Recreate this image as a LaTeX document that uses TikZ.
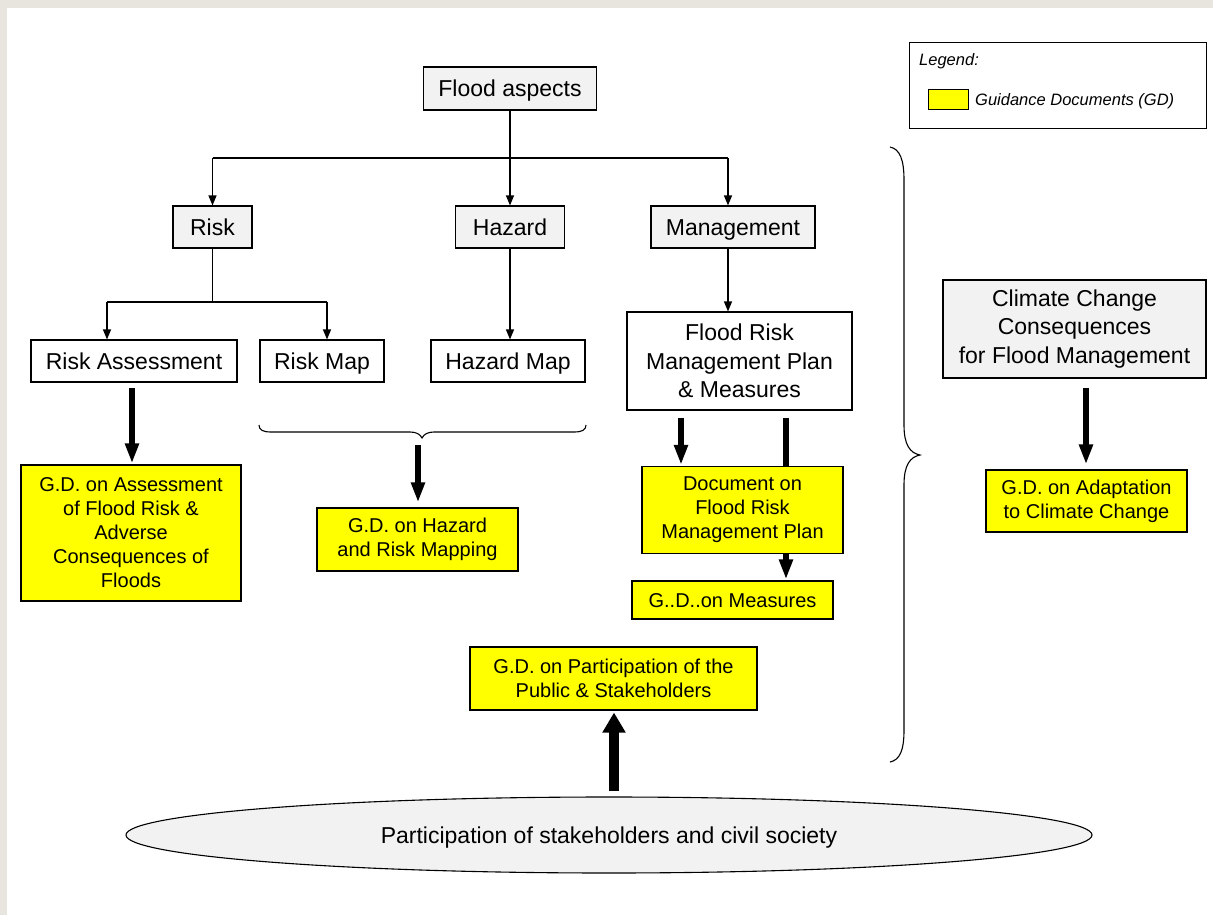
\documentclass[tikz,border=0pt]{standalone}
\usepackage{fontspec}
\setmainfont{Liberation Sans}
\usetikzlibrary{arrows.meta,shapes.geometric}
\definecolor{bgbeige}{HTML}{E8E4DE}
\definecolor{boxgray}{HTML}{F2F2F2}
\definecolor{gdyellow}{HTML}{FFFF00}
\tikzset{
  base/.style={draw=black, line width=1.1pt, inner sep=0pt, align=center, font=\fontsize{23}{28.3}\selectfont},
  graybox/.style={base, fill=boxgray},
  whitebox/.style={base, fill=white},
  oneline/.style={text height=16.5pt, text depth=0pt},
  gdoneline/.style={text height=14.4pt, text depth=0pt},
  gdbox/.style={base, fill=gdyellow, font=\fontsize{20}{24}\selectfont},
  thinline/.style={line width=1.2pt},
  thin arrow/.style={line width=1.2pt, -{Triangle[width=8pt,length=10pt]}},
  fat arrow/.style={line width=6pt, -{Triangle[width=13pt,length=20pt]}},
  big arrow/.style={line width=10pt, -{Triangle[width=22pt,length=20pt]}},
  bracepath/.style={line width=1.1pt},
  legfont/.style={font=\fontsize{16.5}{20}\selectfont\itshape, inner sep=0pt}
}
\begin{document}
\begin{tikzpicture}[x=1pt,y=-1pt]
\useasboundingbox (0,0) rectangle (1213,915);
\fill[bgbeige] (0,0) rectangle (1213,915);
\fill[white] (7,8) rectangle (1213,915);

% legend
\node[draw, line width=1pt, fill=white, minimum width=297pt, minimum height=86pt, inner sep=0pt] (legend) at (1057.5,86) {};
\node[legfont, anchor=base west] (legtitle) at (919,66) {Legend:};
\node[draw, line width=1pt, fill=gdyellow, minimum width=40pt, minimum height=20pt, inner sep=0pt] (swatch) at (948,100) {};
\node[legfont, anchor=base west] (legtext) at (975,106) {Guidance Documents (GD)};

% top level
\node[graybox, oneline, minimum width=173pt, minimum height=43pt] (flood) at (510,88.5) {Flood aspects};
\node[graybox, oneline, minimum width=79pt, minimum height=42pt] (risk) at (212.5,227) {Risk};
\node[graybox, oneline, minimum width=109pt, minimum height=42pt] (hazard) at (510,227) {Hazard};
\node[graybox, oneline, minimum width=164pt, minimum height=42pt] (mgmt) at (733,227) {Management};

\node[whitebox, oneline, minimum width=206pt, minimum height=42pt] (rass) at (134,361) {Risk Assessment};
\node[whitebox, oneline, minimum width=124pt, minimum height=42pt] (rmap) at (322,361) {Risk Map};
\node[whitebox, oneline, minimum width=154pt, minimum height=42pt] (hmap) at (508,361) {Hazard Map};
\node[whitebox, minimum width=225pt, minimum height=98pt] (frmp) at (739.5,361) {Flood Risk\\Management Plan\\\& Measures};
\node[graybox, minimum width=263pt, minimum height=98pt] (climate) at (1074.5,329) {Climate Change\\Consequences\\for Flood Management};

% connectors (thin)
\coordinate (top) at (510,158);
\coordinate (tl) at (212.5,158);
\coordinate (tr) at (728,158);
\draw[thinline] (flood.south) -- (top);
\draw[thinline] (tl) -- (tr);
\draw[thin arrow] (tl) -- (risk.north);
\draw[thin arrow] (top) -- (hazard.north);
\draw[thin arrow] (tr) -- (tr |- mgmt.north);
\draw[thin arrow] (tr |- mgmt.south) -- (tr |- frmp.north);

\coordinate (rb) at (212.5,302);
\coordinate (rbl) at (107,302);
\coordinate (rbr) at (327,302);
\draw[thinline] (risk.south) -- (rb);
\draw[thinline] (rbl) -- (rbr);
\draw[thin arrow] (rbl) -- (rbl |- rass.north);
\draw[thin arrow] (rbr) -- (rbr |- rmap.north);
\draw[thin arrow] (hazard.south) -- (hazard.south |- hmap.north);

% guidance documents
\node[gdbox, minimum width=220pt, minimum height=136pt] (gdass) at (131,533) {G.D. on Assessment\\of Flood Risk \&\\Adverse\\Consequences of\\Floods};
\node[gdbox, minimum width=201pt, minimum height=63pt] (gdhaz) at (417.5,539.5) {G.D. on Hazard\\and Risk Mapping};
\node[gdbox, gdoneline, minimum width=201pt, minimum height=38pt] (gdmeas) at (732.5,600) {G..D..on Measures};

\coordinate (xm) at (786,0);
\draw[fat arrow, shorten <=7pt, shorten >=1pt] (frmp.south -| xm) -- (gdmeas.north -| xm);

\node[gdbox, minimum width=201pt, minimum height=87pt] (gddoc) at (742.5,510) {Document on\\Flood Risk\\Management Plan};
\node[gdbox, minimum width=287pt, minimum height=63pt] (gdpart) at (613.5,678.5) {G.D. on Participation of the\\Public \& Stakeholders};
\node[gdbox, minimum width=201pt, minimum height=62pt] (gdadapt) at (1086.5,501) {G.D. on Adaptation\\to Climate Change};

\node[draw=black, line width=1.1pt, ellipse, fill=boxgray, minimum width=966pt, minimum height=76pt, inner sep=0pt, font=\fontsize{23}{28}\selectfont, text height=16.5pt, text depth=0pt] (civil) at (609,835) {Participation of stakeholders and civil society};

% thick arrows
\coordinate (xa) at (132,0);
\coordinate (xd) at (681,0);
\coordinate (xc) at (1086,0);
\coordinate (xp) at (614,0);
\coordinate (bt) at (418,440);
\draw[fat arrow, shorten <=5pt, shorten >=1pt] (rass.south -| xa) -- (gdass.north -| xa);
\draw[fat arrow, shorten <=5pt, shorten >=5pt] (bt) -- (bt |- gdhaz.north);
\draw[fat arrow, shorten <=7pt, shorten >=1pt] (frmp.south -| xd) -- (gddoc.north -| xd);
\draw[fat arrow, shorten <=9pt, shorten >=5pt] (climate.south -| xc) -- (gdadapt.north -| xc);
\draw[big arrow, shorten <=5pt, shorten >=2pt] (civil.north -| xp) -- (gdpart.south -| xp);

% braces
\draw[bracepath] (259,425) .. controls (259,430) and (263,432) .. (271,432) -- (410,432)
  .. controls (416,432) and (420,434) .. (422,438) .. controls (424,434) and (428,432) .. (434,432)
  -- (574,432) .. controls (582,432) and (586,430) .. (586,425);
\draw[bracepath] (890,147) .. controls (900,149) and (904,160) .. (904,180) -- (904,425)
  .. controls (904,445) and (910,453) .. (920,455) .. controls (910,457) and (904,465) .. (904,485)
  -- (904,730) .. controls (904,750) and (900,760) .. (890,762);
\end{tikzpicture}
\end{document}
